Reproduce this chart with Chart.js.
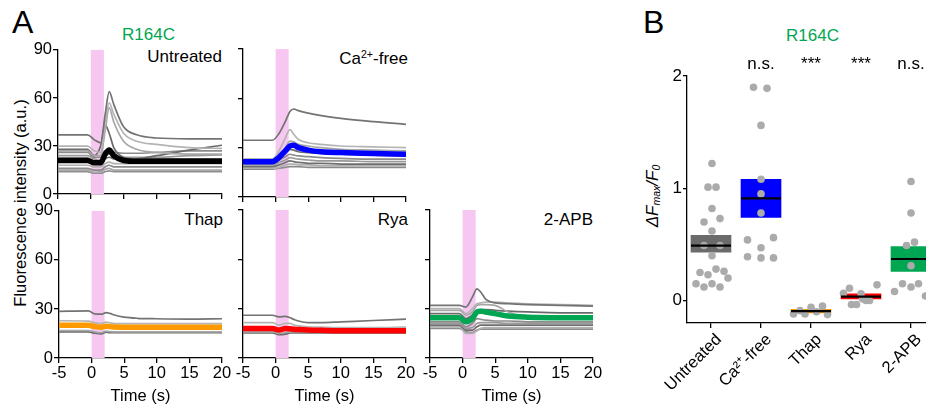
<!DOCTYPE html>
<html lang="en">
<head>
<meta charset="UTF-8">
<title>R164C | traces and dF/F0</title>
<script src="https://cdn.jsdelivr.net/npm/chart.js@4.4.1/dist/chart.umd.min.js"></script>
<style>
  html, body { margin: 0; padding: 0; background: #fff; }
  body { width: 926px; height: 409px; position: relative; overflow: hidden;
         font-family: Arial, "Liberation Sans", sans-serif; color: #000; }
  canvas { position: absolute; }
  .lbl { position: absolute; line-height: 1; white-space: nowrap; }
  .rot { position: absolute; line-height: 1; white-space: nowrap;
         transform: translate(-50%, -50%) rotate(-90deg); }
  .green { color: #00a651; }
  sup { font-size: 0.62em; vertical-align: 0.55em; line-height: 0; }
  sub { font-size: 0.62em; vertical-align: -0.25em; line-height: 0; }
</style>
</head>
<body>

<!-- Panel A -->
<div class="lbl" style="left:12px; top:6px; font-size:32px;">A</div>
<div class="lbl green" style="left:122px; top:26px; font-size:17px;">R164C</div>
<div class="rot" style="left:20px; top:203px; font-size:16.5px;">Fluorescence intensity (a.u.)</div>
<div class="lbl" style="right:704px; top:48px; font-size:17px;">Untreated</div>
<div class="lbl" style="right:518px; top:50px; font-size:17px;">Ca<sup>2+</sup>-free</div>
<div class="lbl" style="right:703px; top:211px; font-size:17px;">Thap</div>
<div class="lbl" style="right:518px; top:211px; font-size:17px;">Rya</div>
<div class="lbl" style="right:333px; top:211px; font-size:17px;">2-APB</div>

<canvas id="untreated"></canvas>
<canvas id="cafree"></canvas>
<canvas id="thap"></canvas>
<canvas id="rya"></canvas>
<canvas id="apb"></canvas>

<!-- Panel B -->
<div class="lbl" style="left:643px; top:6px; font-size:32px;">B</div>
<div class="lbl green" style="left:786px; top:27px; font-size:17px;">R164C</div>
<div class="rot" style="left:652px; top:196px; font-size:17px; font-style:italic;">&Delta;F<sub>max</sub>/F<sub>0</sub></div>
<canvas id="summary"></canvas>

<script>
    // ---- data ----
    // time samples (s) shared by all traces
    var TIME = [-5, -0.5, 0.5, 1.5, 2.2, 2.8, 3.5, 5, 7, 10, 15, 20];
    var BAND = [0, 2];              // stimulus window (s)
    var X_TICKS = [-5, 0, 5, 10, 15, 20];
    var Y_TICKS = [0, 30, 60, 90];

    var UNTREATED_TRACES = [
        [37, 37, 34, 32, 50, 64, 56, 42, 37, 35, 34.5, 34.5],
        [30, 30, 27, 26, 44, 57, 50, 38, 33, 31, 29, 28.5],
        [27, 27, 24, 24, 40, 54, 45, 33, 28, 26, 25, 25],
        [28, 28, 24, 30, 43, 38, 29, 23, 22, 24, 27.5, 30.5],
        [26, 26, 23, 23, 27, 27, 26, 25.5, 25.5, 26, 27, 27],
        [24, 24, 22, 21, 24, 25, 24, 23, 23, 23, 24, 24.5],
        [22.5, 22.5, 20.5, 20, 22, 23, 22, 22, 22, 22, 22, 22],
        [18, 18, 17, 17, 19, 20, 19, 19, 19, 19, 19, 19],
        [16, 16, 15, 15, 17, 18, 17, 17, 17, 17, 17, 17],
        [15, 15, 13.5, 14, 15.5, 16, 15, 15, 15, 15, 15, 15],
        [14, 14, 13, 13, 14, 14.5, 14, 14, 14, 14, 14, 14]
    ];
    var UNTREATED_MEAN = [21, 21, 19.5, 19.5, 25, 27.5, 24, 21, 20.5, 20.5, 20.5, 20.5];

    var CAFREE_TRACES = [
        [34.5, 34.5, 38.5, 46, 52, 53.5, 52.5, 51, 49.5, 47.8, 45.8, 44.2],
        [23, 23, 28, 36, 41, 38, 35, 33, 32, 31, 30.5, 30],
        [23, 23, 26, 30, 34, 33.5, 32, 31, 30, 29, 28.5, 28],
        [22, 22, 24, 27, 29, 28.5, 27.5, 27, 26.5, 26, 25.5, 25],
        [20.5, 20.5, 22.5, 24.5, 26, 25.5, 25, 24.5, 24, 23.5, 23, 23],
        [19.5, 19.5, 21, 22.5, 24, 23.5, 23, 22.5, 22, 22, 21.5, 21.5],
        [18.5, 18.5, 19.5, 21, 22, 21.5, 21, 20.5, 20.5, 20, 20, 20],
        [17.5, 17.5, 18, 19.5, 20, 20, 19.5, 19.5, 19, 19, 19, 19],
        [17, 17, 17.5, 18, 18.5, 18.5, 18.5, 18, 18, 18, 18, 18]
    ];
    var CAFREE_MEAN = [21.5, 21.5, 24, 28, 31, 31.5, 30, 28.5, 27.5, 27, 26.5, 26];

    var THAP_TRACES = [
        [28.5, 28.8, 27, 26.8, 27.8, 27.3, 26.3, 25, 24.3, 24, 23.8, 24],
        [22.8, 22.6, 21.5, 21, 22, 21.5, 21, 21, 21, 21, 21, 21],
        [16.8, 16.8, 16, 15.5, 16.5, 16.2, 16, 16, 16, 16, 16, 16],
        [16, 16, 15.2, 14.8, 15.8, 15.5, 15.5, 15.5, 15.5, 15.5, 15.5, 15.5]
    ];
    var THAP_MEAN = [20, 20, 19.2, 18.8, 19.5, 19.2, 19, 18.8, 18.8, 18.8, 18.8, 18.8];

    var RYA_TRACES = [
        [26, 26, 25, 25.3, 24.5, 23.5, 22.5, 21.5, 21.5, 22, 22.8, 23.7],
        [21.5, 21.5, 20, 21, 21, 20, 19.5, 19, 18.8, 18.5, 18.5, 18.8],
        [16, 16, 15, 15.5, 16, 16, 16, 16, 16, 16.3, 16.8, 17],
        [15.2, 15.2, 14.2, 14.5, 15.2, 15.2, 15.2, 15.2, 15.2, 15.2, 15.2, 15.2]
    ];
    var RYA_MEAN = [18, 18, 17, 18, 17.8, 17.5, 17.3, 17, 16.8, 16.6, 16.6, 16.6];

    var APB_TRACES = [
        [32, 32, 31, 37, 42, 40, 36, 33.5, 33, 32.5, 32, 31.5],
        [30, 30, 27, 30, 33, 33.5, 34, 34, 33.5, 33, 32.5, 32],
        [29, 29, 26, 28, 32, 32.5, 32.5, 32, 28, 25, 24.5, 24],
        [27, 27, 24, 26, 29, 29.5, 29.5, 29, 28.5, 28, 27.5, 27.5],
        [22, 22, 19, 21, 24, 23.5, 23, 22.5, 22.5, 22, 22, 22],
        [21, 21, 18, 18.5, 21, 21.5, 21.5, 21.5, 21, 21, 21, 21],
        [20, 20, 17, 17, 19, 20, 20, 20, 20, 20, 20, 20],
        [19, 19, 15, 15, 16.5, 18, 18.5, 18.5, 18.5, 18.5, 18.5, 18.5],
        [18, 18, 16, 15.5, 17, 17.5, 17.5, 17.5, 17.5, 17.5, 17.5, 17.5]
    ];
    var APB_MEAN = [24.5, 24.5, 22, 24, 28, 28.5, 28, 27, 25.5, 24.8, 24.5, 24.5];

    // panel B
    var CATEGORIES = ['Untreated', 'Ca\u00b2\u207a-free', 'Thap', 'Rya', '2-APB'];
    var SIGNIFICANCE = ['', 'n.s.', '***', '***', 'n.s.'];
    var BOX_LOW = [0.43, 0.74, -0.11, 0.015, 0.26];
    var BOX_HIGH = [0.58, 1.08, -0.078, 0.06, 0.48];
    var MEDIANS = [0.49, 0.91, -0.095, 0.035, 0.37];
    var B_TICKS = [0, 1, 2];

    var PTS_UNTREATED = [1.22, 1.01, 1.01, 0.82, 0.70, 0.73, 0.62, 0.49, 0.49, 0.40, 0.25, 0.28, 0.26, 0.23, 0.20, 0.15, 0.15, 0.12, 0.12];
    var JIT_UNTREATED = [0.02, -0.06, 0.1, 0.02, -0.14, 0.18, 0.02, -0.14, 0.18, 0.02, -0.22, 0.1, 0.26, -0.06, 0.34, -0.3, 0.02, -0.14, 0.18];
    var PTS_CAFREE = [1.90, 1.89, 1.56, 1.08, 0.95, 0.78, 0.54, 0.56, 0.47, 0.39, 0.38, 0.38];
    var JIT_CAFREE = [-0.15, 0.12, 0, 0, 0, 0, -0.27, 0.25, 0, -0.27, 0, 0.25];
    var PTS_THAP = [-0.12, -0.09, -0.12, -0.06, -0.10, -0.05, -0.125];
    var JIT_THAP = [-0.35, -0.22, -0.12, 0, 0.11, 0.23, 0.33];
    var PTS_RYA = [0.065, 0.11, -0.035, -0.035, 0.06, 0.015, 0.0, 0.0, 0.14];
    var JIT_RYA = [-0.35, -0.23, -0.19, -0.09, 0, 0.03, 0.1, 0.17, 0.32];
    var PTS_APB = [1.06, 0.78, 0.52, 0.49, 0.31, 0.15, 0.12, 0.15, 0.08, 0.04];
    var JIT_APB = [0, 0, 0.07, -0.09, 0, -0.17, 0, 0.15, -0.33, 0.29];

    // ---- styles ----
    var FONT = 'Arial, "Liberation Sans", sans-serif';
    var GRAY_TONES = ['#737373', '#b4b4b4', '#a6a6a6', '#6a6a6a', '#8c8c8c', '#999999', '#6e6e6e', '#b0b0b0', '#8a8a8a', '#a8a8a8', '#909090'];
    var BOX_COLORS = ['#6b6b6b', '#0000ff', '#ff9900', '#ff0000', '#00a651'];

    // pink stimulus band behind the traces
    var bandPlugin = {
        id: 'band',
        beforeDatasetsDraw: function (chart) {
            var x = chart.scales.x, a = chart.chartArea, ctx = chart.ctx;
            var x0 = x.getPixelForValue(BAND[0]), x1 = x.getPixelForValue(BAND[1]);
            ctx.save();
            ctx.fillStyle = '#f6c8f1';
            ctx.fillRect(x0, a.top, x1 - x0, a.bottom - a.top);
            ctx.restore();
        }
    };

    function toPoints(vals) {
        return TIME.map(function (t, i) { return { x: t, y: vals[i] }; });
    }

    function tracePanel(id, box, traces, mean, meanColor, showY, showX) {
        var yW = 40, padT = 10, padR = 14, xH = showX ? 48 : 8;
        var cv = document.getElementById(id);
        cv.width = yW + box.w + padR;
        cv.height = padT + box.h + xH;
        cv.style.left = (box.x - yW) + 'px';
        cv.style.top = (box.y - padT) + 'px';

        var datasets = [{
            data: toPoints(mean), borderColor: meanColor, borderWidth: 5.5,
            pointRadius: 0, cubicInterpolationMode: 'monotone', order: 0
        }];
        traces.forEach(function (v, i) {
            datasets.push({
                data: toPoints(v), borderColor: GRAY_TONES[i % GRAY_TONES.length], borderWidth: 1.7,
                pointRadius: 0, cubicInterpolationMode: 'monotone', order: 1
            });
        });

        var axisStyle = { color: '#000', width: 1.3 };
        new Chart(cv, {
            type: 'line',
            data: { datasets: datasets },
            options: {
                responsive: false, animation: false, events: [],
                layout: { autoPadding: false, padding: { top: padT, right: padR, left: 0, bottom: 0 } },
                plugins: { legend: { display: false }, tooltip: { enabled: false } },
                scales: {
                    x: {
                        type: 'linear', min: -5, max: 20,
                        afterBuildTicks: function (s) { s.ticks = X_TICKS.map(function (v) { return { value: v }; }); },
                        afterFit: function (s) { s.height = xH; },
                        ticks: { display: showX, color: '#000', font: { family: FONT, size: 16.5 }, maxRotation: 0, padding: 1 },
                        grid: { drawOnChartArea: false, tickLength: 5, color: '#000', lineWidth: 1.3 },
                        border: axisStyle,
                        title: { display: showX, text: 'Time (s)', color: '#000', font: { family: FONT, size: 16.5 }, padding: { top: 0, bottom: 0 } }
                    },
                    y: {
                        min: 0, max: 90,
                        afterBuildTicks: function (s) { s.ticks = Y_TICKS.map(function (v) { return { value: v }; }); },
                        afterFit: function (s) { s.width = yW; },
                        ticks: { display: showY, color: '#000', font: { family: FONT, size: 16.5 }, padding: 1 },
                        grid: { drawOnChartArea: false, tickLength: 5, color: '#000', lineWidth: 1.3 },
                        border: axisStyle
                    }
                }
            },
            plugins: [bandPlugin]
        });
    }

    tracePanel('untreated', { x: 58, y: 49, w: 164, h: 148 }, UNTREATED_TRACES, UNTREATED_MEAN, '#000000', true, false);
    tracePanel('cafree', { x: 243, y: 49, w: 163, h: 148 }, CAFREE_TRACES, CAFREE_MEAN, '#0000ff', false, false);
    tracePanel('thap', { x: 59, y: 210, w: 163, h: 148 }, THAP_TRACES, THAP_MEAN, '#ff9900', true, true);
    tracePanel('rya', { x: 243, y: 210, w: 163, h: 148 }, RYA_TRACES, RYA_MEAN, '#ff0000', false, true);
    tracePanel('apb', { x: 430, y: 210, w: 163, h: 148 }, APB_TRACES, APB_MEAN, '#00a651', false, true);

    // ---- panel B ----
    var sigPlugin = {
        id: 'sig',
        afterDraw: function (chart) {
            var x = chart.scales.x, ctx = chart.ctx;
            ctx.save();
            ctx.font = '17px ' + FONT;
            ctx.fillStyle = '#000';
            ctx.textAlign = 'center';
            ctx.textBaseline = 'alphabetic';
            SIGNIFICANCE.forEach(function (s, i) {
                if (s) ctx.fillText(s, x.getPixelForValue(i), 29);
            });
            ctx.restore();
        }
    };

    function scatterOf(vals, jit, cat) {
        return vals.map(function (v, i) { return { x: cat + jit[i], y: v }; });
    }

    (function () {
        var yW = 57, padT = 36, padR = 10, xH = 86;
        var cv = document.getElementById('summary');
        cv.width = yW + 249 + padR;
        cv.height = padT + 247 + xH;
        cv.style.left = (687 - yW) + 'px';
        cv.style.top = (76 - padT) + 'px';

        var pts = [].concat(
            scatterOf(PTS_UNTREATED, JIT_UNTREATED, 0),
            scatterOf(PTS_CAFREE, JIT_CAFREE, 1),
            scatterOf(PTS_THAP, JIT_THAP, 2),
            scatterOf(PTS_RYA, JIT_RYA, 3),
            scatterOf(PTS_APB, JIT_APB, 4)
        );

        new Chart(cv, {
            type: 'bar',
            data: {
                datasets: [
                    {
                        type: 'scatter',
                        data: MEDIANS.map(function (m, i) { return { x: i, y: m }; }),
                        pointStyle: 'line', pointRadius: 20, borderColor: '#000', borderWidth: 2.2, order: 1
                    },
                    {
                        type: 'scatter', data: pts,
                        pointRadius: 3.8, backgroundColor: '#ababab', borderWidth: 0, order: 2
                    },
                    {
                        type: 'bar',
                        data: BOX_LOW.map(function (lo, i) { return { x: i, y: [lo, BOX_HIGH[i]] }; }),
                        backgroundColor: BOX_COLORS, barThickness: 40, borderWidth: 0, order: 3
                    }
                ]
            },
            options: {
                responsive: false, animation: false, events: [],
                layout: { autoPadding: false, padding: { top: padT, right: padR, left: 0, bottom: 0 } },
                plugins: { legend: { display: false }, tooltip: { enabled: false } },
                scales: {
                    x: {
                        type: 'linear', min: -0.48, max: 4.5, offset: false,
                        afterBuildTicks: function (s) { s.ticks = [0, 1, 2, 3, 4].map(function (v) { return { value: v }; }); },
                        afterFit: function (s) { s.height = xH; },
                        ticks: {
                            color: '#000', font: { family: FONT, size: 16.5 }, minRotation: 45, maxRotation: 45,
                            autoSkip: false, padding: 2, labelOffset: 8,
                            callback: function (v) { return CATEGORIES[v]; }
                        },
                        grid: { drawOnChartArea: false, offset: false, tickLength: 5, color: '#000', lineWidth: 1.3 },
                        border: { color: '#000', width: 1.3 }
                    },
                    y: {
                        min: -0.2, max: 2,
                        afterBuildTicks: function (s) { s.ticks = B_TICKS.map(function (v) { return { value: v }; }); },
                        afterFit: function (s) { s.width = yW; },
                        ticks: { color: '#000', font: { family: FONT, size: 17 }, padding: 1 },
                        grid: { drawOnChartArea: false, tickLength: 4, color: '#000', lineWidth: 1.3 },
                        border: { color: '#000', width: 1.3 }
                    }
                }
            },
            plugins: [sigPlugin]
        });
    })();
</script>
</body>
</html>
